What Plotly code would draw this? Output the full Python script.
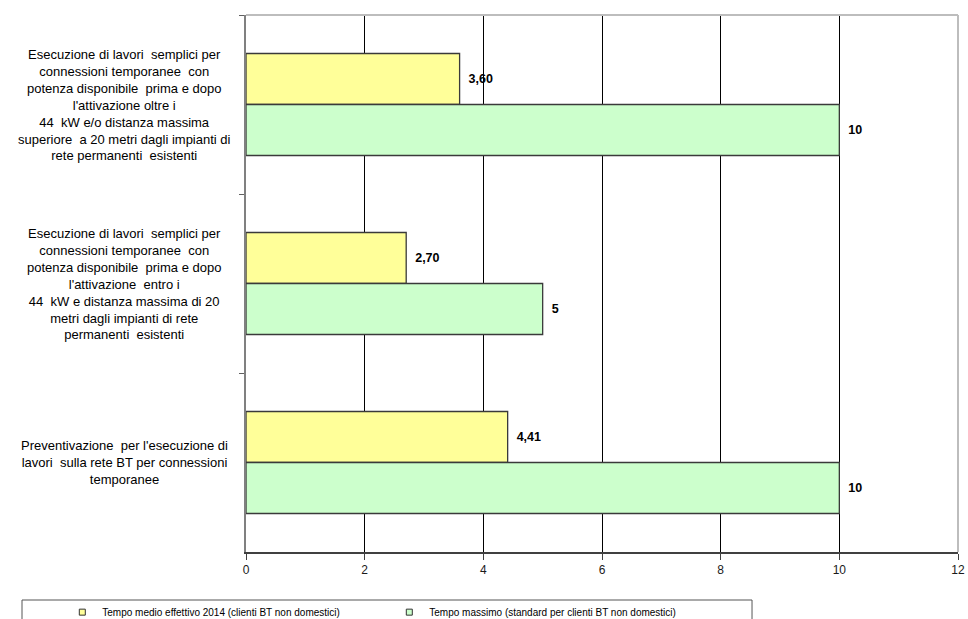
import plotly.graph_objects as go

categories = [
    "Esecuzione di lavori  semplici per<br>connessioni temporanee  con<br>potenza disponibile  prima e dopo<br>l'attivazione oltre i<br>44  kW e/o distanza massima<br>superiore  a 20 metri dagli impianti di<br>rete permanenti  esistenti",
    "Esecuzione di lavori  semplici per<br>connessioni temporanee  con<br>potenza disponibile  prima e dopo<br>l'attivazione  entro i<br>44  kW e distanza massima di 20<br>metri dagli impianti di rete<br>permanenti  esistenti",
    "Preventivazione  per l'esecuzione di<br>lavori  sulla rete BT per connessioni<br>temporanee",
]
series_names = [
    "Tempo medio effettivo 2014 (clienti BT non domestici)",
    "Tempo massimo (standard per clienti BT non domestici)",
]
tempo_medio = [3.60, 2.70, 4.41]
tempo_massimo = [10, 5, 10]
x_ticks = [0, 2, 4, 6, 8, 10, 12]

YELLOW = "#FFFF99"
GREEN = "#CCFFCC"
EDGE = "#3a3a3a"
LABEL_FONT = dict(family="Liberation Sans, Arial, sans-serif", size=13, color="#000000")

fig = go.Figure()
fig.add_trace(go.Bar(
    y=categories, x=tempo_medio, orientation="h", name=series_names[0],
    marker=dict(color=YELLOW, line=dict(color=EDGE, width=1.3)),
    texttemplate="\u00a0\u2009%{x:.2f}", textposition="outside",
    textfont=dict(family="Liberation Sans, Arial", size=12.5, color="#000000", weight="bold"),
    showlegend=False, cliponaxis=False, hoverinfo="skip",
))
fig.add_trace(go.Bar(
    y=categories, x=tempo_massimo, orientation="h", name=series_names[1],
    marker=dict(color=GREEN, line=dict(color=EDGE, width=1.3)),
    texttemplate="\u00a0\u2009%{x}", textposition="outside",
    textfont=dict(family="Liberation Sans, Arial", size=12.5, color="#000000", weight="bold"),
    showlegend=False, cliponaxis=False, hoverinfo="skip",
))
# legend entries
for name, col in zip(series_names, [YELLOW, GREEN]):
    fig.add_trace(go.Scatter(
        x=[None], y=[None], mode="markers", name=name,
        marker=dict(symbol="square", size=6, color=col, line=dict(color="#333333", width=1)),
    ))

for cat in categories:
    fig.add_annotation(
        x=-0.171, xref="paper", y=cat, yref="y", text=cat.replace("  ", " \u00a0"),
        showarrow=False, xanchor="center", yanchor="middle", align="center",
        font=LABEL_FONT,
    )

# light grey top/right frame
fig.add_shape(type="line", xref="paper", yref="paper", x0=0, x1=1, y0=1, y1=1,
              line=dict(color="#BDBDBD", width=2), layer="above")
fig.add_shape(type="line", xref="paper", yref="paper", x0=1, x1=1, y0=0, y1=1,
              line=dict(color="#BDBDBD", width=2), layer="above")
# legend box
fig.add_shape(type="rect", xref="paper", yref="paper", x0=-0.3146, x1=0.7107,
              y0=-0.16, y1=-0.0894, line=dict(color="#555555", width=1), layer="above")

fig.update_layout(
    width=968, height=619,
    margin=dict(l=246, r=10, t=15, b=67, autoexpand=False),
    paper_bgcolor="white", plot_bgcolor="white",
    barmode="group", bargap=0.43, bargroupgap=0,
    separators=",.",
    font=dict(family="Liberation Sans, Arial, sans-serif", size=12, color="#000000"),
    xaxis=dict(
        range=[0, 12], tickvals=x_ticks, ticktext=[str(v) for v in x_ticks],
        showgrid=True, gridcolor="#000000", gridwidth=1,
        showline=True, linecolor="#404040", linewidth=2,
        ticks="outside", ticklen=6, tickcolor="#404040", tickwidth=1,
        zeroline=False, tickfont=dict(size=12, color="#1a1a1a"), automargin=False,
    ),
    yaxis=dict(
        type="category", categoryorder="array", categoryarray=categories,
        autorange="reversed", showticklabels=False,
        showline=True, linecolor="#808080", linewidth=2,
        ticks="outside", tickson="boundaries", ticklen=5, tickcolor="#606060",
        showgrid=False, zeroline=False, automargin=False,
    ),
    legend=dict(
        orientation="h", x=-0.258, xanchor="left", y=-0.085, yanchor="top",
        font=dict(size=10, color="#000000"), bgcolor="rgba(0,0,0,0)",
        borderwidth=0, itemwidth=30, entrywidth=282,
    ),
)

fig.write_html("out.html")
